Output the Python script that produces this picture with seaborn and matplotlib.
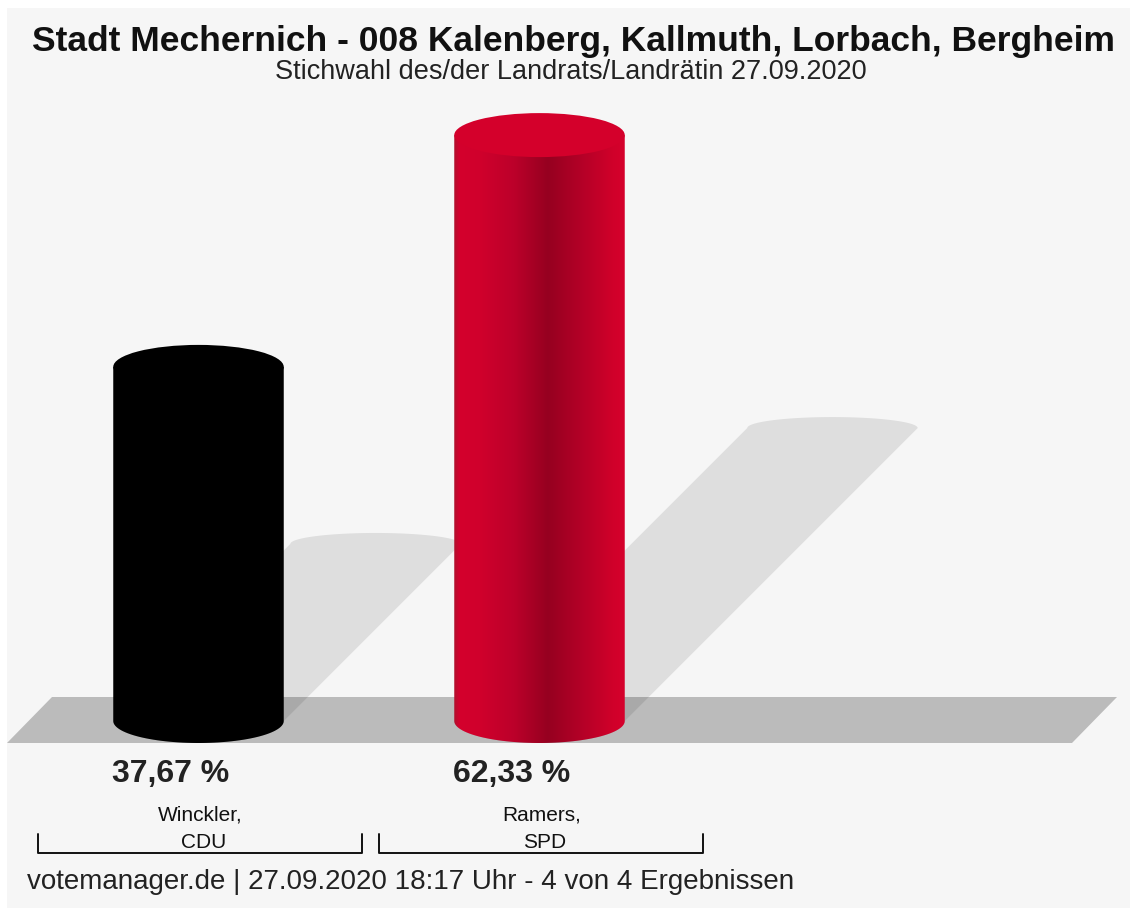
import numpy as np
import pandas as pd
import matplotlib
matplotlib.use("Agg")
import matplotlib.pyplot as plt
import seaborn as sns
from matplotlib.patches import Ellipse, PathPatch, Polygon, Rectangle
from matplotlib.path import Path
from matplotlib.colors import LinearSegmentedColormap
from matplotlib.lines import Line2D

# --- data -----------------------------------------------------------------
candidates = ["Winckler, CDU", "Ramers, SPD"]
name_lines = [["Winckler,", "CDU"], ["Ramers,", "SPD"]]
shares = [37.67, 62.33]
value_labels = ["37,67 %", "62,33 %"]
colors = ["#000000", "#c8002a"]

title = "Stadt Mechernich - 008 Kalenberg, Kallmuth, Lorbach, Bergheim"
subtitle = "Stichwahl des/der Landrats/Landrätin 27.09.2020"
footer = "votemanager.de | 27.09.2020 18:17 Uhr - 4 von 4 Ergebnissen"

# --- figure / scale -------------------------------------------------------
W, H = 1130, 908
DPI = 100
sns.set_theme(style="white")
plt.rcParams["font.family"] = ["Liberation Sans", "DejaVu Sans"]

fig = plt.figure(figsize=(W / DPI, H / DPI), dpi=DPI, facecolor="#f6f6f6")
# thin white margin along the top and left edges
fig.add_artist(Rectangle((0, 1 - 8 / H), 1, 8 / H, transform=fig.transFigure,
                         facecolor="white", edgecolor="none", zorder=-10))
fig.add_artist(Rectangle((0, 0), 7 / W, 1, transform=fig.transFigure,
                         facecolor="white", edgecolor="none", zorder=-10))
ax = fig.add_axes([0, 0, 1, 1])
ax.axis("off")

df = pd.DataFrame({"candidate": candidates, "share": shares})
sns.barplot(data=df, x="candidate", y="share", hue="candidate",
            palette=colors, width=0.5, legend=False, ax=ax)

# pixel geometry of the drawing area
X0_PX, STEP_PX = 198.5, 341.0      # first category centre, category spacing
BASE_PX, PX_PER_UNIT = 721.0, 9.40  # baseline row, pixels per percent

def px_x(px):
    return (px - X0_PX) / STEP_PX

def px_y(py):
    return (BASE_PX - py) / PX_PER_UNIT

XLIM = (px_x(0), px_x(W))
YLIM = (px_y(H), px_y(0))

B = 22.0 / PX_PER_UNIT  # semi-minor axis of the cylinder ellipses (data units)

# floor slab
floor = Polygon([(px_x(7), px_y(743)), (px_x(1072), px_y(743)),
                 (px_x(1117), px_y(697)), (px_x(52), px_y(697))],
                closed=True, facecolor="#bbbbbb", edgecolor="none", zorder=1)
ax.add_patch(floor)

red_cmap = LinearSegmentedColormap.from_list(
    "cyl_red",
    [(0.0, "#b0102e"), (0.03, "#d4002d"), (0.15, "#d0002c"), (0.35, "#bc002a"),
     (0.55, "#960020"), (0.75, "#b40027"), (0.93, "#d0002a"), (1.0, "#d6002c")])

t_low = np.linspace(np.pi, 2 * np.pi, 60)
t_up = np.linspace(0, np.pi, 60)

bars = list(ax.patches)
for bar, col in zip(bars, colors):
    x0 = bar.get_x()
    w = bar.get_width()
    h = bar.get_height()
    xc = x0 + w / 2
    a = w / 2
    bar.set_visible(False)

    # shadow cast up and to the right
    dy = h / 2
    dx = (h * PX_PER_UNIT / 2) / STEP_PX
    bs = B * 0.5
    low = np.column_stack([xc + a * np.cos(t_low), B * np.sin(t_low)])
    up = np.column_stack([xc + dx + a * np.cos(t_up), dy + bs * np.sin(t_up)])
    ax.add_patch(Polygon(np.vstack([low, up]), closed=True, facecolor="black",
                         alpha=0.095, edgecolor="none", zorder=2))

    # cylinder body: side walls plus rounded bottom
    verts = [(x0, h)] + [tuple(p) for p in low] + [(x0 + w, h), (x0, h)]
    body = PathPatch(Path(verts, closed=True), transform=ax.transData,
                     facecolor=col if col == "#000000" else "none",
                     edgecolor="none", zorder=3)
    ax.add_patch(body)
    if col != "#000000":
        grad = np.linspace(0, 1, 256)[None, :]
        im = ax.imshow(grad, cmap=red_cmap, aspect="auto",
                       extent=[x0, x0 + w, -B, h], zorder=3.1,
                       interpolation="bicubic")
        im.set_clip_path(body)
        top_col = "#d4002b"
    else:
        top_col = "#000000"

    # top cap
    ax.add_patch(Ellipse((xc, h), width=w, height=2 * B, facecolor=top_col,
                         edgecolor="none", zorder=4))

# value labels, names and brackets under the floor
for i, (val, lines) in enumerate(zip(value_labels, name_lines)):
    ax.text(i - 0.083, px_y(774), val, ha="center", va="center",
            fontsize=23, fontweight="bold", color="#222222")
    ax.text(i + 0.005, px_y(815), lines[0], ha="center", va="center",
            fontsize=15, color="#111111")
    ax.text(i + 0.015, px_y(842), lines[1], ha="center", va="center",
            fontsize=15, color="#111111")
    xl, xr = i - 0.47, i + 0.48
    ax.add_line(Line2D([xl, xl, xr, xr],
                       [px_y(834), px_y(853), px_y(853), px_y(834)],
                       color="#111111", lw=1.4, zorder=5))

ax.set_xlim(*XLIM)
ax.set_ylim(*YLIM)

fig.text(573 / W, 1 - 41 / H, title, ha="center", va="center",
         fontsize=25.5, fontweight="bold", color="#111111")
fig.text(571 / W, 1 - 72 / H, subtitle, ha="center", va="center",
         fontsize=19.5, color="#222222")
fig.text(27 / W, 1 - 882 / H, footer, ha="left", va="center",
         fontsize=20, color="#222222")

fig.savefig("out.png", dpi=DPI, facecolor=fig.get_facecolor())
